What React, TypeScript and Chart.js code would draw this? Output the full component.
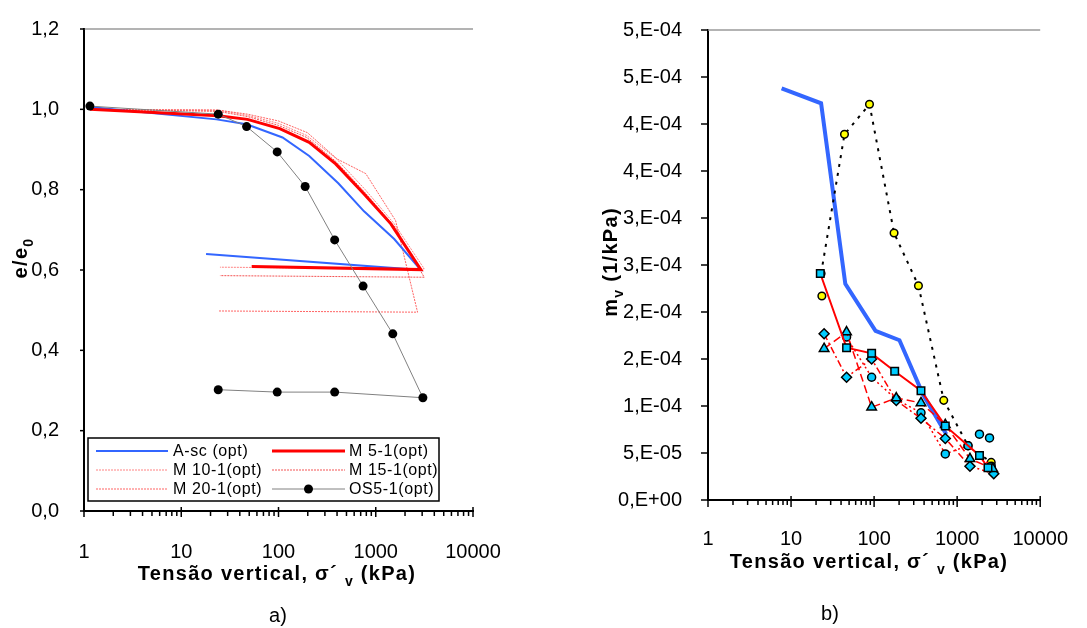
import React, { useEffect, useRef } from "react";
import { Chart, registerables } from "chart.js";
Chart.register(...registerables);

// ---------- shared axis data ----------
const X_DECADES = [1, 10, 100, 1000, 10000];
const X_DECADE_LABELS = ["1", "10", "100", "1000", "10000"];
const A_Y_LABELS = ["0,0", "0,2", "0,4", "0,6", "0,8", "1,0", "1,2"];
const B_Y_LABELS = ["0,E+00", "5,E-05", "1,E-04", "2,E-04", "2,E-04", "3,E-04", "3,E-04", "4,E-04", "4,E-04", "5,E-04", "5,E-04"];
const A_NAMES = ["A-sc (opt)", "M 5-1(opt)", "M 10-1(opt)", "M 15-1(opt)", "M 20-1(opt)", "OS5-1(opt)"];

// ---------- chart a) e/e0 ----------
const aAscX = [1.15, 23, 47, 110, 207, 412, 758, 1548, 2911, 18];
const aAscY = [1.006, 0.975, 0.963, 0.93, 0.884, 0.816, 0.746, 0.677, 0.6, 0.64];
const aM5X = [1.15, 24, 48, 103, 207, 387, 758, 1430, 2911, 53];
const aM5Y = [1.0, 0.984, 0.975, 0.952, 0.918, 0.864, 0.789, 0.715, 0.601, 0.609];
const aM10X = [1.15, 24, 48, 100, 195, 390, 780, 1550, 3150, 25];
const aM10Y = [1.0, 0.998, 0.985, 0.965, 0.935, 0.878, 0.8, 0.715, 0.603, 0.607];
const aM15X = [1.15, 24, 48, 100, 195, 390, 780, 1600, 3150, 25];
const aM15Y = [1.0, 0.995, 0.982, 0.96, 0.93, 0.87, 0.792, 0.705, 0.582, 0.586];
const aM20X = [1.15, 24, 48, 100, 198, 403, 789, 1600, 2690, 24];
const aM20Y = [1.0, 0.998, 0.988, 0.971, 0.942, 0.876, 0.84, 0.723, 0.495, 0.498];
const aOSX = [1.15, 24, 47, 97, 188, 378, 741, 1497, 3052, 378, 97, 24];
const aOSY = [1.008, 0.988, 0.957, 0.894, 0.808, 0.675, 0.56, 0.441, 0.282, 0.296, 0.296, 0.302];

// ---------- chart b) mv ----------
const bAscX = [7.7, 23, 45, 104, 202, 390, 740];
const bAscY = [4.38e-4, 4.22e-4, 2.3e-4, 1.8e-4, 1.7e-4, 1.12e-4, 0.7e-4];
const bOSX = [23, 44, 88, 174, 342, 690, 1352, 2572];
const bOSY = [2.41e-4, 3.89e-4, 4.21e-4, 2.84e-4, 2.28e-4, 1.06e-4, 0.578e-4, 0.4e-4];
const bOSExtraX = [23.5];
const bOSExtraY = [2.17e-4];
const bSqX = [22.5, 46.6, 93.4, 177, 367, 720, 1857, 2351];
const bSqY = [2.41e-4, 1.62e-4, 1.56e-4, 1.37e-4, 1.163e-4, 0.788e-4, 0.473e-4, 0.343e-4];
const bTrX = [25, 46.6, 93.4, 185, 367, 720, 1427, 2684];
const bTrY = [1.61e-4, 1.786e-4, 0.987e-4, 1.085e-4, 1.033e-4, 0.8e-4, 0.438e-4, 0.333e-4];
const bDiX = [25, 46.6, 93.4, 185, 367, 720, 1427, 2760];
const bDiY = [1.768e-4, 1.306e-4, 1.5e-4, 1.058e-4, 0.869e-4, 0.654e-4, 0.36e-4, 0.28e-4];
const bCiX = [46.6, 93.4, 185, 367, 720, 1352, 2572];
const bCiY = [1.733e-4, 1.306e-4, 1.07e-4, 0.928e-4, 0.49e-4, 0.578e-4, 0.36e-4];
const bCiExtraX = [1857, 2455];
const bCiExtraY = [0.7e-4, 0.66e-4];

const zip = (xs: number[], ys: number[]) => xs.map((x, i) => ({ x, y: ys[i] }));

const FONT = '"Liberation Sans", Arial, sans-serif';
const CYAN = "#00CCFF";
const BLUE = "#3366FF";

type Part = { t: string; sub?: boolean };

function drawRich(ctx: CanvasRenderingContext2D, parts: Part[], cx: number, baseY: number, size: number, bold = true) {
  const w = bold ? "bold " : "";
  const fonts = parts.map((p) => `${w}${p.sub ? Math.round(size * 0.7) : size}px ${FONT}`);
  const widths: number[] = [];
  let total = 0;
  parts.forEach((p, i) => {
    ctx.font = fonts[i];
    const m = ctx.measureText(p.t).width;
    widths.push(m);
    total += m;
  });
  let x = cx - total / 2;
  ctx.textAlign = "left";
  ctx.textBaseline = "alphabetic";
  parts.forEach((p, i) => {
    ctx.font = fonts[i];
    ctx.fillText(p.t, x, baseY + (p.sub ? size * 0.28 : 0));
    x += widths[i];
  });
}

function axisDecor(chart: any, cfg: any) {
  const ctx: CanvasRenderingContext2D = chart.ctx;
  const { left, right, top, bottom } = chart.chartArea;
  const xs = chart.scales.x;
  const ys = chart.scales.y;
  ctx.save();
  ctx.strokeStyle = "#9a9a9a";
  ctx.lineWidth = 1.5;
  ctx.beginPath();
  ctx.moveTo(left, top);
  ctx.lineTo(right, top);
  ctx.stroke();
  ctx.strokeStyle = "#000";
  ctx.lineWidth = 1.5;
  for (let d = 0; d < X_DECADES.length; d++) {
    for (let m = 1; m <= 9; m++) {
      const v = X_DECADES[d] * m;
      if (v > 10000) break;
      const px = xs.getPixelForValue(v);
      ctx.beginPath();
      if (m === 1) {
        ctx.moveTo(px, bottom - cfg.xMajUp);
        ctx.lineTo(px, bottom + cfg.xMajDown);
      } else {
        ctx.moveTo(px, bottom + 1);
        ctx.lineTo(px, bottom + cfg.xMinDown);
      }
      ctx.stroke();
    }
  }
  for (const t of ys.ticks) {
    const py = ys.getPixelForValue(t.value);
    ctx.beginPath();
    ctx.moveTo(left - cfg.yOut, py);
    ctx.lineTo(left + cfg.yIn, py);
    ctx.stroke();
  }
  ctx.fillStyle = "#000";
  try { (ctx as any).letterSpacing = "1.3px"; } catch (e) {}
  drawRich(ctx, [{ t: "Tensão vertical, σ´ " }, { t: "v", sub: true }, { t: " (kPa)" }], cfg.xtX, cfg.xtY, 20);
  ctx.save();
  ctx.translate(cfg.ytX, cfg.ytY);
  ctx.rotate(-Math.PI / 2);
  drawRich(ctx, cfg.yParts, 0, 0, 20);
  ctx.restore();
  try { (ctx as any).letterSpacing = "0px"; } catch (e) {}
  drawRich(ctx, [{ t: cfg.letter }], cfg.letX, cfg.letY, 20, false);
  ctx.restore();
}

function drawLegendA(chart: any) {
  const ctx: CanvasRenderingContext2D = chart.ctx;
  const ds = chart.data.datasets;
  ctx.save();
  ctx.fillStyle = "#fff";
  ctx.fillRect(88, 438, 351, 63);
  ctx.strokeStyle = "#000";
  ctx.lineWidth = 1.5;
  ctx.strokeRect(88, 438, 351, 63);
  const rows = [451, 470, 489];
  const cols = [{ l0: 96, l1: 168, tx: 173 }, { l0: 272, l1: 345, tx: 349 }];
  ctx.font = `16px ${FONT}`;
  try { (ctx as any).letterSpacing = "0.6px"; } catch (e) {}
  ctx.textBaseline = "middle";
  ctx.textAlign = "left";
  for (let i = 0; i < ds.length; i++) {
    const d = ds[i];
    const r = rows[Math.floor(i / 2)];
    const c = cols[i % 2];
    ctx.strokeStyle = d.borderColor;
    ctx.lineWidth = d.borderWidth;
    ctx.setLineDash(d.borderDash || []);
    ctx.beginPath();
    ctx.moveTo(c.l0, r);
    ctx.lineTo(c.l1, r);
    ctx.stroke();
    ctx.setLineDash([]);
    if (d.pointRadius > 0) {
      ctx.fillStyle = d.pointBackgroundColor;
      ctx.beginPath();
      ctx.arc((c.l0 + c.l1) / 2, r, d.pointRadius, 0, Math.PI * 2);
      ctx.fill();
    }
    ctx.fillStyle = "#000";
    ctx.fillText(d.label, c.tx, r + 1);
  }
  ctx.restore();
}

function xScale(padding: number) {
  return {
    type: "logarithmic" as const,
    min: 1,
    max: 10000,
    grid: { display: false },
    border: { display: true, color: "#000", width: 2 },
    afterBuildTicks: (s: any) => {
      s.ticks = X_DECADES.map((v) => ({ value: v, major: true }));
    },
    ticks: {
      autoSkip: false,
      maxRotation: 0,
      padding,
      color: "#000",
      font: { family: FONT, size: 20 },
      callback: (v: any) => {
        const i = X_DECADES.indexOf(Number(v));
        return i >= 0 ? X_DECADE_LABELS[i] : "";
      },
    },
  };
}

function ChartA() {
  const ref = useRef<HTMLCanvasElement>(null);
  useEffect(() => {
    const thin = { borderWidth: 1, pointRadius: 0, showLine: true };
    const chart = new Chart(ref.current!, {
      type: "scatter",
      data: {
        datasets: [
          { label: A_NAMES[0], data: zip(aAscX, aAscY), borderColor: BLUE, borderWidth: 2, pointRadius: 0, showLine: true, order: 3 },
          { label: A_NAMES[1], data: zip(aM5X, aM5Y), borderColor: "#FF0000", borderWidth: 3, pointRadius: 0, showLine: true, order: 2 },
          { label: A_NAMES[2], data: zip(aM10X, aM10Y), borderColor: "rgba(255,90,90,0.75)", borderDash: [2, 1], ...thin, order: 4 },
          { label: A_NAMES[3], data: zip(aM15X, aM15Y), borderColor: "rgba(240,40,40,0.8)", borderDash: [2, 1], ...thin, order: 4 },
          { label: A_NAMES[4], data: zip(aM20X, aM20Y), borderColor: "rgba(255,60,60,0.8)", borderDash: [2, 1], ...thin, order: 4 },
          { label: A_NAMES[5], data: zip(aOSX, aOSY), borderColor: "#808080", borderWidth: 1, pointRadius: 4.5, pointBackgroundColor: "#000", pointBorderColor: "#000", pointBorderWidth: 0, showLine: true, order: 1 },
        ],
      },
      options: {
        responsive: false,
        animation: false,
        events: [],
        layout: { padding: { left: 0, right: 70, top: 27, bottom: 0 } },
        plugins: { legend: { display: false }, tooltip: { enabled: false } },
        scales: {
          x: { ...xScale(21), afterFit: (s: any) => { s.height = 117; } },
          y: {
            type: "linear",
            min: 0,
            max: 1.2,
            grid: { display: false },
            border: { display: true, color: "#000", width: 2 },
            afterFit: (s: any) => { s.width = 84; },
            ticks: {
              stepSize: 0.2,
              padding: 17,
              color: "#000",
              font: { family: FONT, size: 20 },
              callback: (_v: any, i: number) => A_Y_LABELS[i],
            },
          },
        },
      },
      plugins: [
        {
          id: "decorA",
          afterDraw: (c: any) => {
            axisDecor(c, {
              xMajUp: 4, xMajDown: 6, xMinDown: 5, yOut: 4, yIn: 1,
              xtX: 277, xtY: 580, ytX: 27, ytY: 258,
              yParts: [{ t: "e/e" }, { t: "0", sub: true }],
              letter: "a)", letX: 278, letY: 622,
            });
            drawLegendA(c);
          },
        },
      ],
    } as any);
    return () => chart.destroy();
  }, []);
  return <canvas ref={ref} width={543} height={628} style={{ position: "absolute", left: 0, top: 0 }} />;
}

function ChartB() {
  const ref = useRef<HTMLCanvasElement>(null);
  useEffect(() => {
    const mk = (style: string, r: number) => ({
      pointStyle: style,
      pointRadius: r,
      pointBackgroundColor: CYAN,
      pointBorderColor: "#000",
      pointBorderWidth: 1.5,
      borderColor: "#FF0000",
      showLine: true,
    });
    const chart = new Chart(ref.current!, {
      type: "scatter",
      data: {
        datasets: [
          { label: "OS5-1(opt)", data: zip(bOSX, bOSY), showLine: true, borderColor: "#000", borderWidth: 2, borderDash: [3, 6], pointRadius: 3.8, pointBackgroundColor: "#FFFF00", pointBorderColor: "#000", pointBorderWidth: 1.5, order: 5 },
          { label: "OS5-1 b", data: zip(bOSExtraX, bOSExtraY), showLine: false, pointRadius: 3.8, pointBackgroundColor: "#FFFF00", pointBorderColor: "#000", pointBorderWidth: 1.5, order: 5 },
          { label: "A-sc (opt)", data: zip(bAscX, bAscY), showLine: true, borderColor: BLUE, borderWidth: 4, pointRadius: 0, order: 6 },
          { label: "M5-1", data: zip(bSqX, bSqY), ...mk("rect", 5.3), borderWidth: 2, order: 1 },
          { label: "M10-1", data: zip(bTrX, bTrY), ...mk("triangle", 5.5), borderWidth: 1.5, borderDash: [8, 4], order: 2 },
          { label: "M15-1", data: zip(bDiX, bDiY), ...mk("rectRot", 5), borderWidth: 1.5, borderDash: [7, 3, 2, 3], order: 3 },
          { label: "M20-1", data: zip(bCiX, bCiY), ...mk("circle", 4), borderWidth: 1.5, borderDash: [2, 3], order: 4 },
          { label: "M20-1 b", data: zip(bCiExtraX, bCiExtraY), ...mk("circle", 4), showLine: false, order: 4 },
        ],
      },
      options: {
        responsive: false,
        animation: false,
        events: [],
        layout: { padding: { left: 0, right: 29, top: 24, bottom: 0 } },
        plugins: { legend: { display: false }, tooltip: { enabled: false } },
        scales: {
          x: { ...xScale(19), afterFit: (s: any) => { s.height = 128; } },
          y: {
            type: "linear",
            min: 0,
            max: 5e-4,
            grid: { display: false },
            border: { display: true, color: "#000", width: 2 },
            afterFit: (s: any) => { s.width = 165; },
            ticks: {
              count: 11,
              padding: 18,
              color: "#000",
              font: { family: FONT, size: 20 },
              callback: (_v: any, i: number) => B_Y_LABELS[i],
            },
          },
        },
      },
      plugins: [
        {
          id: "decorB",
          afterDraw: (c: any) => {
            axisDecor(c, {
              xMajUp: 4, xMajDown: 7, xMinDown: 5, yOut: 7, yIn: 0,
              xtX: 869 - 543, xtY: 568, ytX: 617 - 543, ytY: 262,
              yParts: [{ t: "m" }, { t: "v", sub: true }, { t: " (1/kPa)" }],
              letter: "b)", letX: 830 - 543, letY: 620,
            });
          },
        },
      ],
    } as any);
    return () => chart.destroy();
  }, []);
  return <canvas ref={ref} width={544} height={628} style={{ position: "absolute", left: 543, top: 0 }} />;
}

export default function App() {
  return (
    <div style={{ position: "absolute", left: 0, top: 0, width: 1087, height: 628, background: "#fff", overflow: "hidden" }}>
      <ChartA />
      <ChartB />
    </div>
  );
}
